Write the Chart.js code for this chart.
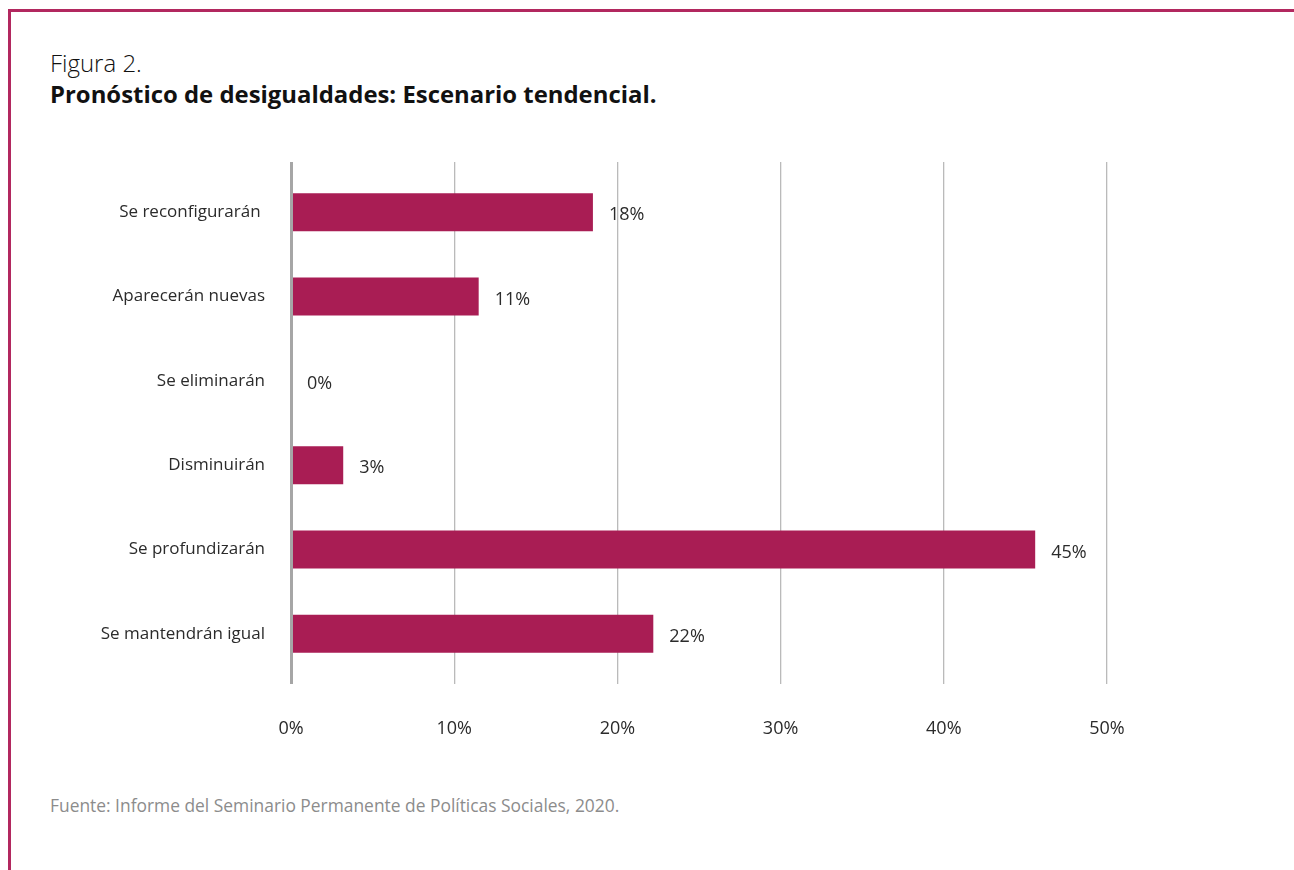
<!DOCTYPE html>
<html>
<head>
<meta charset="utf-8">
<script src="https://cdn.jsdelivr.net/npm/chart.js@4.4.0/dist/chart.umd.min.js"></script>
<style>
  html, body { margin: 0; padding: 0; background: #fff; }
  body { width: 1294px; height: 870px; position: relative; overflow: hidden; font-family: "Open Sans", "Noto Sans", sans-serif; }
  .frame { position: absolute; left: 8px; top: 9px; width: 1400px; height: 1000px; border-top: 3px solid #b2285f; border-left: 3px solid #b2285f; }
  .fig { position: absolute; left: 50px; top: 49px; font-size: 24px; line-height: 28px; font-weight: 300; color: #111; }
  .title { position: absolute; left: 50px; top: 80px; font-size: 23.9px; line-height: 28px; font-weight: 700; color: #111; }
  .source { position: absolute; left: 50px; top: 793px; font-size: 17.4px; line-height: 24px; color: #8c8c8c; }
  #wrap { position: absolute; left: 0; top: 0; width: 1294px; height: 870px; }
</style>
</head>
<body>
<div class="frame"></div>
<div class="fig">Figura 2.</div>
<div class="title">Pronóstico de desigualdades: Escenario tendencial.</div>
<div class="source">Fuente: Informe del Seminario Permanente de Políticas Sociales, 2020.</div>
<div id="wrap"><canvas id="myChart" width="1294" height="870"></canvas></div>
<script>
// Data
var categories = ['Se reconfigurarán ', 'Aparecerán nuevas', 'Se eliminarán', 'Disminuirán', 'Se profundizarán', 'Se mantendrán igual'];
var values = [18.5, 11.5, 0, 3.2, 45.6, 22.2];
var valueLabels = ['18%', '11%', '0%', '3%', '45%', '22%'];
var xTicks = [0, 10, 20, 30, 40, 50];

var barColor = '#a91d54';
var textColor = '#2b2b2b';
var font = { family: '"Open Sans", "Noto Sans", sans-serif', size: 17 };
var numFont = { family: '"Open Sans", "Noto Sans", sans-serif', size: 18 };

// draw the value labels next to each bar
var valueLabelPlugin = {
    id: 'valueLabels',
    afterDatasetsDraw: function (chart) {
        var ctx = chart.ctx;
        var meta = chart.getDatasetMeta(0);
        ctx.save();
        ctx.font = numFont.size + 'px ' + numFont.family;
        ctx.fillStyle = textColor;
        ctx.textAlign = 'left';
        ctx.textBaseline = 'middle';
        meta.data.forEach(function (bar, i) {
            ctx.fillText(valueLabels[i], bar.x + 16, bar.y + 3);
        });
        ctx.restore();
    }
};

function gridColor(c) { return c.tick && c.tick.value === 0 ? '#a6a6a6' : '#bababa'; }
function gridWidth(c) { return c.tick && c.tick.value === 0 ? 3 : 1.3; }

if (typeof Chart === 'undefined') {
    console.error('Chart.js is not loaded');
} else {
    var ctx = document.getElementById('myChart').getContext('2d');
    var myChart = new Chart(ctx, {
        type: 'bar',
        data: {
            labels: categories,
            datasets: [{
                data: values,
                backgroundColor: barColor,
                borderWidth: 0,
                barPercentage: 0.45,
                categoryPercentage: 1
            }]
        },
        options: {
            indexAxis: 'y',
            responsive: false,
            animation: false,
            devicePixelRatio: 1,
            layout: { padding: { left: 0, right: 187, top: 162, bottom: 134 } },
            plugins: { legend: { display: false }, tooltip: { enabled: false } },
            scales: {
                x: {
                    min: 0,
                    max: 50,
                    afterBuildTicks: function (scale) { scale.ticks = xTicks.map(function (v) { return { value: v }; }); },
                    afterFit: function (scale) { scale.height = 60; },
                    grid: { color: gridColor, lineWidth: gridWidth, tickLength: 8 },
                    border: { display: false },
                    ticks: {
                        padding: 34,
                        color: textColor,
                        font: numFont,
                        callback: function (v) { return v + '%'; }
                    }
                },
                x2: {
                    type: 'linear',
                    position: 'top',
                    min: 0,
                    max: 50,
                    afterBuildTicks: function (scale) { scale.ticks = xTicks.map(function (v) { return { value: v }; }); },
                    afterFit: function (scale) { scale.height = 8; },
                    grid: { color: gridColor, lineWidth: gridWidth, tickLength: 8, drawOnChartArea: false },
                    border: { display: false },
                    ticks: { display: false }
                },
                y: {
                    afterFit: function (scale) { scale.width = 291; },
                    grid: { display: false, drawTicks: false, tickLength: 0 },
                    border: { display: true, color: '#a6a6a6', width: 3, z: 1 },
                    ticks: { padding: 26, color: textColor, font: font }
                }
            }
        },
        plugins: [valueLabelPlugin]
    });
}
</script>
</body>
</html>
